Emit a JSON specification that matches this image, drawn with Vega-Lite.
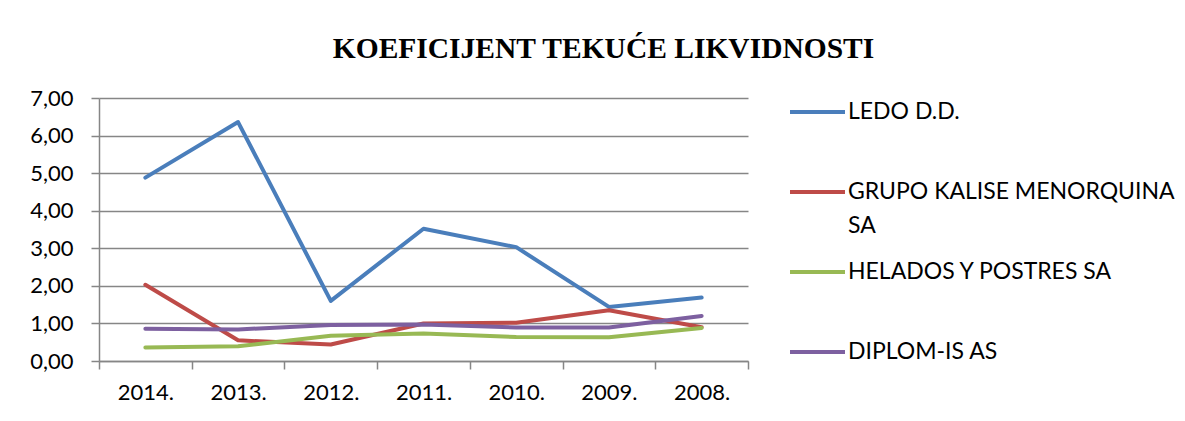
{
  "$schema": "https://vega.github.io/schema/vega-lite/v6.json",
  "width": 649,
  "height": 263,
  "autosize": "none",
  "padding": {"left": 99, "top": 98, "right": 437, "bottom": 60},
  "background": "white",
  "title": {
    "text": "KOEFICIJENT TEKUĆE LIKVIDNOSTI",
    "font": "Liberation Serif",
    "fontSize": 29.5,
    "fontWeight": "bold",
    "color": "black",
    "anchor": "middle",
    "frame": "group",
    "dx": 180,
    "dy": 9,
    "baseline": "alphabetic",
    "offset": 4
  },
  "data": {
    "values": [
      {"year": "2014.", "company": "LEDO D.D.", "value": 4.88},
      {"year": "2013.", "company": "LEDO D.D.", "value": 6.36},
      {"year": "2012.", "company": "LEDO D.D.", "value": 1.60},
      {"year": "2011.", "company": "LEDO D.D.", "value": 3.52},
      {"year": "2010.", "company": "LEDO D.D.", "value": 3.03},
      {"year": "2009.", "company": "LEDO D.D.", "value": 1.44},
      {"year": "2008.", "company": "LEDO D.D.", "value": 1.69},
      {"year": "2014.", "company": "GRUPO KALISE MENORQUINA SA", "value": 2.03},
      {"year": "2013.", "company": "GRUPO KALISE MENORQUINA SA", "value": 0.55},
      {"year": "2012.", "company": "GRUPO KALISE MENORQUINA SA", "value": 0.44},
      {"year": "2011.", "company": "GRUPO KALISE MENORQUINA SA", "value": 1.00},
      {"year": "2010.", "company": "GRUPO KALISE MENORQUINA SA", "value": 1.02},
      {"year": "2009.", "company": "GRUPO KALISE MENORQUINA SA", "value": 1.35},
      {"year": "2008.", "company": "GRUPO KALISE MENORQUINA SA", "value": 0.90},
      {"year": "2014.", "company": "HELADOS Y POSTRES SA", "value": 0.36},
      {"year": "2013.", "company": "HELADOS Y POSTRES SA", "value": 0.39},
      {"year": "2012.", "company": "HELADOS Y POSTRES SA", "value": 0.67},
      {"year": "2011.", "company": "HELADOS Y POSTRES SA", "value": 0.73},
      {"year": "2010.", "company": "HELADOS Y POSTRES SA", "value": 0.64},
      {"year": "2009.", "company": "HELADOS Y POSTRES SA", "value": 0.63},
      {"year": "2008.", "company": "HELADOS Y POSTRES SA", "value": 0.88},
      {"year": "2014.", "company": "DIPLOM-IS AS", "value": 0.86},
      {"year": "2013.", "company": "DIPLOM-IS AS", "value": 0.84},
      {"year": "2012.", "company": "DIPLOM-IS AS", "value": 0.96},
      {"year": "2011.", "company": "DIPLOM-IS AS", "value": 0.97},
      {"year": "2010.", "company": "DIPLOM-IS AS", "value": 0.89},
      {"year": "2009.", "company": "DIPLOM-IS AS", "value": 0.89},
      {"year": "2008.", "company": "DIPLOM-IS AS", "value": 1.20}
    ]
  },
  "mark": {"type": "line", "strokeWidth": 4, "strokeCap": "round", "strokeJoin": "round"},
  "encoding": {
    "x": {
      "field": "year",
      "type": "nominal",
      "sort": ["2014.", "2013.", "2012.", "2011.", "2010.", "2009.", "2008."],
      "scale": {"paddingInner": 0, "paddingOuter": 0},
      "axis": {
        "title": null,
        "labelAngle": 0,
        "labelFont": "Lato",
        "labelFontSize": 22,
        "labelColor": "black",
        "labelPadding": 13,
        "tickBand": "extent",
        "tickSize": 8,
        "tickColor": "#868686",
        "tickWidth": 1.5,
        "domainColor": "#868686",
        "domainWidth": 1.5,
        "grid": false
      }
    },
    "y": {
      "field": "value",
      "type": "quantitative",
      "scale": {"domain": [0, 7], "nice": false},
      "axis": {
        "title": null,
        "values": [0, 1, 2, 3, 4, 5, 6, 7],
        "labelExpr": "replace(format(datum.value, '.2f'), '.', ',')",
        "labelFont": "Lato",
        "labelFontSize": 22,
        "labelColor": "black",
        "labelPadding": 18,
        "tickSize": 8,
        "tickColor": "#868686",
        "tickWidth": 1.5,
        "domainColor": "#868686",
        "domainWidth": 1.5,
        "grid": true,
        "gridColor": "#868686",
        "gridWidth": 1.5
      }
    },
    "color": {
      "field": "company",
      "type": "nominal",
      "sort": ["LEDO D.D.", "GRUPO KALISE MENORQUINA SA", "HELADOS Y POSTRES SA", "DIPLOM-IS AS"],
      "scale": {
        "domain": ["LEDO D.D.", "GRUPO KALISE MENORQUINA SA", "HELADOS Y POSTRES SA", "DIPLOM-IS AS"],
        "range": ["#4A7EBB", "#BE4B48", "#98B954", "#7D60A0"]
      },
      "legend": {
        "title": null,
        "orient": "none",
        "legendX": 689,
        "legendY": -16,
        "clipHeight": 80,
        "rowPadding": 0,
        "symbolType": "stroke",
        "symbolSize": 3025,
        "symbolStrokeWidth": 4,
        "labelFont": "Lato",
        "labelFontSize": 23,
        "labelColor": "black",
        "labelLimit": 400,
        "labelOffset": 1,
        "labelExpr": "datum.label == 'GRUPO KALISE MENORQUINA SA' ? ['GRUPO KALISE MENORQUINA', 'SA'] : datum.label",
        "encode": {
          "symbols": {
            "update": {
              "y": {"value": 30}
            }
          },
          "labels": {
            "update": {
              "y": {"value": 30},
              "lineHeight": {"value": 34}
            }
          }
        }
      }
    }
  },
  "config": {"view": {"stroke": null}}
}
